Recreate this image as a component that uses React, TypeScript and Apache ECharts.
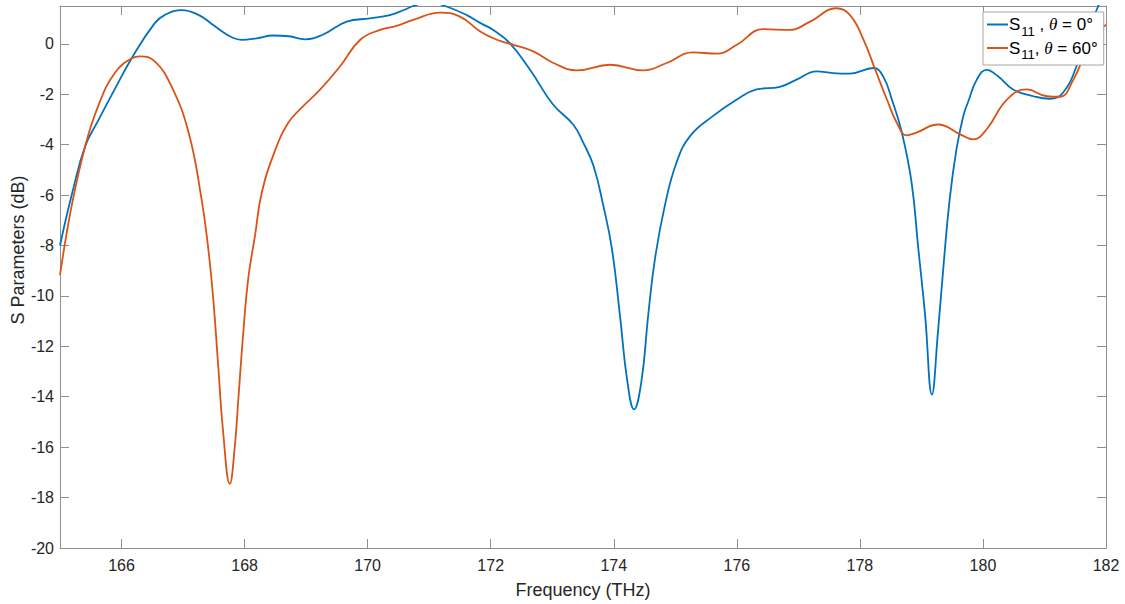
import React, { useEffect, useRef } from "react";
import * as echarts from "echarts";

const freqBlue = [
  165.0, 165.2, 165.41, 165.62, 165.89, 166.17, 166.54, 166.7, 166.98, 167.25, 167.46, 167.63, 167.8, 167.95,
  168.2, 168.46, 168.72, 168.98, 169.27, 169.66, 170.04, 170.36, 170.6, 170.74, 171.0, 171.26, 171.61, 171.85, 172.04,
  172.31, 172.64, 173.01, 173.34, 173.5, 173.67, 173.83, 173.97, 174.1, 174.22, 174.33, 174.45, 174.56,
  174.67, 174.83, 175.02, 175.24, 175.61, 176.0, 176.32, 176.7, 176.97, 177.3, 177.56, 177.84, 178.22,
  178.38, 178.52, 178.68, 178.84, 178.95, 179.06, 179.17, 179.27, 179.36, 179.46, 179.57, 179.68, 179.76,
  179.9, 180.06, 180.25, 180.49, 180.82, 181.09, 181.3, 181.52, 181.69, 181.87, 182.0,
];
const s11Theta0 = [
  -8.0, -5.9, -4.06, -3.05, -1.8, -0.55, 0.82, 1.14, 1.34, 1.15, 0.8, 0.5, 0.25, 0.16,
  0.22, 0.33, 0.3, 0.18, 0.36, 0.88, 1.01, 1.14, 1.35, 1.5, 1.65, 1.5, 1.14, 0.8, 0.55,
  0.03, -1.03, -2.4, -3.2, -3.9, -4.84, -6.42, -8.13, -10.76, -13.38, -14.5, -13.38, -10.76,
  -8.52, -6.42, -4.71, -3.66, -2.87, -2.21, -1.81, -1.71, -1.42, -1.09, -1.16, -1.18, -0.96,
  -1.3, -2.21, -3.5, -5.5, -8.13, -10.76, -13.91, -11.4, -8.78, -6.15, -4.18, -2.87, -2.3,
  -1.42, -1.03, -1.3, -1.81, -2.08, -2.18, -1.94, -0.9, 0.43, 1.47, 2.2,
];

const freqOrange = [
  165.0, 165.19, 165.41, 165.62, 165.89, 166.17, 166.3, 166.54, 166.81, 167.09, 167.3, 167.41, 167.49,
  167.57, 167.65, 167.76, 167.84, 167.9, 167.98, 168.06, 168.17, 168.28, 168.5, 168.71, 168.9, 169.23,
  169.55, 169.88, 170.2, 170.47, 170.74, 171.18, 171.5, 171.83, 172.1, 172.37, 172.69, 173.02, 173.4,
  173.94, 174.48, 174.86, 175.29, 175.67, 176.0, 176.43, 176.86, 177.19, 177.62, 177.84, 178.06, 178.25,
  178.44, 178.6, 178.76, 178.92, 179.27, 179.63, 179.84, 180.06, 180.39, 180.71, 181.04, 181.25, 181.47,
  181.69, 181.9, 182.0,
];
const s11Theta60 = [
  -9.18, -6.42, -4.05, -2.47, -1.16, -0.57, -0.5, -0.7, -1.68, -3.52, -6.15, -8.13, -10.1,
  -12.73, -15.36, -17.46, -16.0, -14.04, -11.41, -9.3, -7.6, -5.9, -4.2, -3.13, -2.6, -1.81,
  -0.9, 0.16, 0.55, 0.71, 0.95, 1.24, 1.08, 0.49, 0.16, -0.04, -0.3, -0.76, -1.05,
  -0.83, -1.05, -0.76, -0.34, -0.39, -0.04, 0.58, 0.55, 0.88, 1.41, 1.14, 0.16, -1.03,
  -2.21, -3.13, -3.63, -3.52, -3.2, -3.59, -3.79, -3.39, -2.21, -1.81, -2.08, -2.1, -1.42,
  -0.24, 0.55, 0.75,
];

const xTicks = [166, 168, 170, 172, 174, 176, 178, 180, 182];
const yTicks = [-20, -18, -16, -14, -12, -10, -8, -6, -4, -2, 0];
const seriesNames = ["S11 θ=0", "S11 θ=60"];
const legendAngles = ["0°", "60°"];

const FONT = "'Liberation Sans', Arial, Helvetica, sans-serif";
const AXIS_COLOR = "#8f8f8f";
const TEXT_COLOR = "#262626";

export default function App() {
  const ref = useRef<HTMLDivElement>(null);
  useEffect(() => {
    if (!ref.current) return;
    const chart = echarts.init(ref.current, undefined, { renderer: "svg" });
    const tickStyle = { show: true, inside: true, length: 9, lineStyle: { color: AXIS_COLOR, width: 1 } };
    const lineStyleAxis = { show: true, onZero: false, lineStyle: { color: AXIS_COLOR, width: 1 } };
    const makeX = (pos: "bottom" | "top", showLabels: boolean) => ({
      type: "value",
      position: pos,
      min: 165,
      max: 182,
      axisLine: lineStyleAxis,
      axisTick: { ...tickStyle, customValues: xTicks },
      axisLabel: {
        show: showLabels,
        customValues: xTicks,
        color: TEXT_COLOR,
        fontSize: 16,
        fontFamily: FONT,
        margin: 9,
      },
      splitLine: { show: false },
      name: showLabels ? "Frequency (THz)" : "",
      nameLocation: "middle",
      nameGap: 33,
      nameTextStyle: { color: TEXT_COLOR, fontSize: 18, fontFamily: FONT },
    });
    const makeY = (pos: "left" | "right", showLabels: boolean) => ({
      type: "value",
      position: pos,
      min: -20,
      max: 1.5,
      axisLine: lineStyleAxis,
      axisTick: { ...tickStyle, customValues: yTicks },
      axisLabel: {
        show: showLabels,
        customValues: yTicks,
        color: TEXT_COLOR,
        fontSize: 16,
        fontFamily: FONT,
        margin: 6,
      },
      splitLine: { show: false },
    });
    const rich = {
      a: { fontSize: 17, fontFamily: FONT, color: "#000", lineHeight: 20 },
      b: { fontSize: 13, fontFamily: FONT, color: "#000", verticalAlign: "bottom", padding: [13, 0, 0, 1] },
      c: { fontSize: 17, fontFamily: "'Liberation Serif', 'DejaVu Serif', serif", fontStyle: "italic", color: "#000", lineHeight: 20 },
    };
    chart.setOption({
      animation: false,
      grid: { left: 60, top: 6, right: 19, bottom: 53, containLabel: false },
      xAxis: [makeX("bottom", true), makeX("top", false)],
      yAxis: [makeY("left", true), makeY("right", false)],
      graphic: [
        {
          type: "text",
          x: 18,
          y: 250,
          rotation: Math.PI / 2,
          style: {
            text: "S Parameters (dB)",
            fill: TEXT_COLOR,
            fontSize: 18,
            fontFamily: FONT,
            align: "center",
            verticalAlign: "middle",
          },
        },
      ],
      legend: {
        show: true,
        orient: "vertical",
        left: 983,
        top: 12,
        padding: [4, 6, 4, 4],
        itemGap: 2,
        itemWidth: 21,
        itemHeight: 2,
        icon: "rect",
        backgroundColor: "#ffffff",
        borderColor: "#a6a6a6",
        borderWidth: 1,
        borderRadius: 0,
        data: seriesNames,
        formatter: (name: string) => {
          const i = seriesNames.indexOf(name);
          const sep = i === 0 ? " , " : ", ";
          return `{a|S}{b|11}{a|${sep}}{c|θ}{a| = ${legendAngles[i]}}`;
        },
        textStyle: { rich, padding: [0, 0, 0, -4] },
      },
      series: [
        {
          name: seriesNames[0],
          type: "line",
          xAxisIndex: 0,
          yAxisIndex: 0,
          data: freqBlue.map((f, i) => [f, s11Theta0[i]]),
          showSymbol: false,
          smooth: 0.45,
          lineStyle: { color: "#0072BD", width: 1.8 },
          itemStyle: { color: "#0072BD" },
          clip: true,
        },
        {
          name: seriesNames[1],
          type: "line",
          xAxisIndex: 0,
          yAxisIndex: 0,
          data: freqOrange.map((f, i) => [f, s11Theta60[i]]),
          showSymbol: false,
          smooth: 0.45,
          lineStyle: { color: "#D95319", width: 1.8 },
          itemStyle: { color: "#D95319" },
          clip: true,
        },
      ],
    });
    return () => chart.dispose();
  }, []);
  return (
    <div
      ref={ref}
      style={{ position: "fixed", left: 0, top: 0, width: 1125, height: 604, background: "#fff" }}
    />
  );
}
